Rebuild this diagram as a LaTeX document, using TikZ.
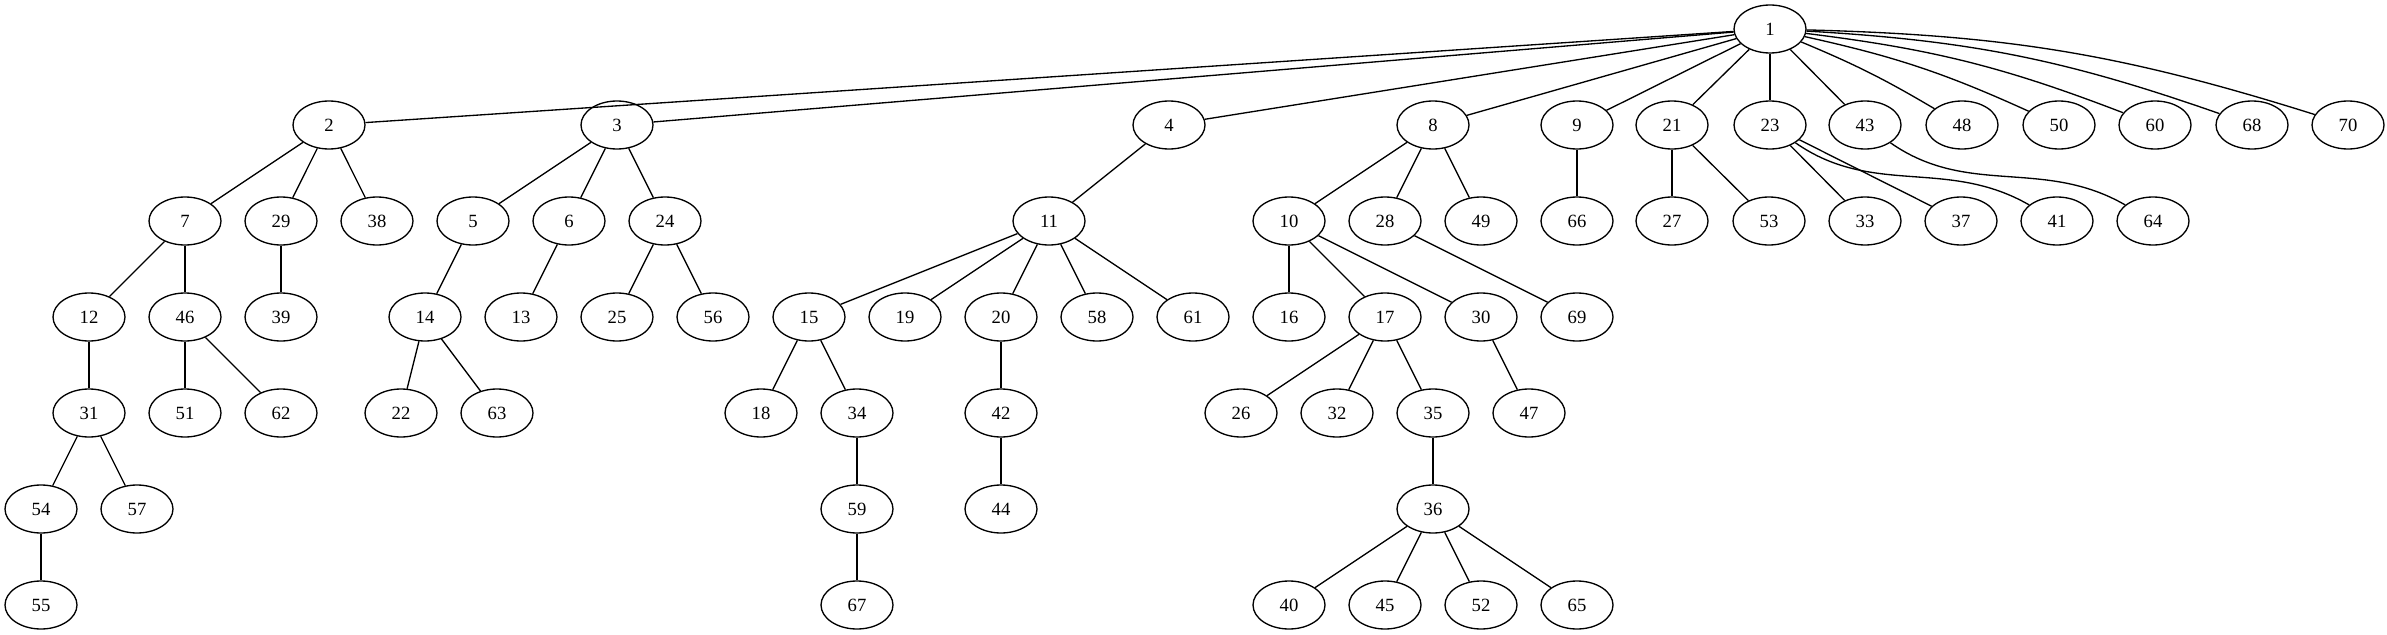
\documentclass[tikz,border=0pt]{standalone}
\usepackage{fontspec}
\setmainfont{Liberation Serif}
\usetikzlibrary{shapes.geometric}

\begin{document}
\begin{tikzpicture}[x=0.75pt,y=-0.75pt]
% Styles
\tikzstyle{arete}=[line width=1pt]
\tikzstyle{noeud}=[ellipse,draw,line width=1pt,minimum width=54pt,minimum height=36pt,inner sep=0pt,font=\fontsize{14pt}{16pt}\selectfont]
% Dimensions
\def\DistanceInterNiveaux{96}
\def\Haut{29}
% Dimensions calculees
\def\NiveauA{\Haut+(0)*\DistanceInterNiveaux}
\def\NiveauB{\Haut+(1)*\DistanceInterNiveaux}
\def\NiveauC{\Haut+(2)*\DistanceInterNiveaux}
\def\NiveauD{\Haut+(3)*\DistanceInterNiveaux}
\def\NiveauE{\Haut+(4)*\DistanceInterNiveaux}
\def\NiveauF{\Haut+(5)*\DistanceInterNiveaux}
\def\NiveauG{\Haut+(6)*\DistanceInterNiveaux}
\useasboundingbox (0,0) rectangle (2387,635);
% Noeuds
\node[noeud] (n1) at ({1770},{\NiveauA}) {1};
\node[noeud] (n2) at ({329},{\NiveauB}) {2};
\node[noeud] (n3) at ({617},{\NiveauB}) {3};
\node[noeud] (n4) at ({1169},{\NiveauB}) {4};
\node[noeud] (n8) at ({1433},{\NiveauB}) {8};
\node[noeud] (n9) at ({1577},{\NiveauB}) {9};
\node[noeud] (n21) at ({1672},{\NiveauB}) {21};
\node[noeud] (n23) at ({1770},{\NiveauB}) {23};
\node[noeud] (n43) at ({1865},{\NiveauB}) {43};
\node[noeud] (n48) at ({1962},{\NiveauB}) {48};
\node[noeud] (n50) at ({2059},{\NiveauB}) {50};
\node[noeud] (n60) at ({2155},{\NiveauB}) {60};
\node[noeud] (n68) at ({2252},{\NiveauB}) {68};
\node[noeud] (n70) at ({2348},{\NiveauB}) {70};
\node[noeud] (n7) at ({185},{\NiveauC}) {7};
\node[noeud] (n29) at ({281},{\NiveauC}) {29};
\node[noeud] (n38) at ({377},{\NiveauC}) {38};
\node[noeud] (n5) at ({473},{\NiveauC}) {5};
\node[noeud] (n6) at ({569},{\NiveauC}) {6};
\node[noeud] (n24) at ({665},{\NiveauC}) {24};
\node[noeud] (n11) at ({1049},{\NiveauC}) {11};
\node[noeud] (n10) at ({1289},{\NiveauC}) {10};
\node[noeud] (n28) at ({1385},{\NiveauC}) {28};
\node[noeud] (n49) at ({1481},{\NiveauC}) {49};
\node[noeud] (n66) at ({1577},{\NiveauC}) {66};
\node[noeud] (n27) at ({1672},{\NiveauC}) {27};
\node[noeud] (n53) at ({1769},{\NiveauC}) {53};
\node[noeud] (n33) at ({1865},{\NiveauC}) {33};
\node[noeud] (n37) at ({1961},{\NiveauC}) {37};
\node[noeud] (n41) at ({2057},{\NiveauC}) {41};
\node[noeud] (n64) at ({2153},{\NiveauC}) {64};
\node[noeud] (n12) at ({89},{\NiveauD}) {12};
\node[noeud] (n46) at ({185},{\NiveauD}) {46};
\node[noeud] (n39) at ({281},{\NiveauD}) {39};
\node[noeud] (n14) at ({425},{\NiveauD}) {14};
\node[noeud] (n13) at ({521},{\NiveauD}) {13};
\node[noeud] (n25) at ({617},{\NiveauD}) {25};
\node[noeud] (n56) at ({713},{\NiveauD}) {56};
\node[noeud] (n15) at ({809},{\NiveauD}) {15};
\node[noeud] (n19) at ({905},{\NiveauD}) {19};
\node[noeud] (n20) at ({1001},{\NiveauD}) {20};
\node[noeud] (n58) at ({1097},{\NiveauD}) {58};
\node[noeud] (n61) at ({1193},{\NiveauD}) {61};
\node[noeud] (n16) at ({1289},{\NiveauD}) {16};
\node[noeud] (n17) at ({1385},{\NiveauD}) {17};
\node[noeud] (n30) at ({1481},{\NiveauD}) {30};
\node[noeud] (n69) at ({1577},{\NiveauD}) {69};
\node[noeud] (n31) at ({89},{\NiveauE}) {31};
\node[noeud] (n51) at ({185},{\NiveauE}) {51};
\node[noeud] (n62) at ({281},{\NiveauE}) {62};
\node[noeud] (n22) at ({401},{\NiveauE}) {22};
\node[noeud] (n63) at ({497},{\NiveauE}) {63};
\node[noeud] (n18) at ({761},{\NiveauE}) {18};
\node[noeud] (n34) at ({857},{\NiveauE}) {34};
\node[noeud] (n42) at ({1001},{\NiveauE}) {42};
\node[noeud] (n26) at ({1241},{\NiveauE}) {26};
\node[noeud] (n32) at ({1337},{\NiveauE}) {32};
\node[noeud] (n35) at ({1433},{\NiveauE}) {35};
\node[noeud] (n47) at ({1529},{\NiveauE}) {47};
\node[noeud] (n54) at ({41},{\NiveauF}) {54};
\node[noeud] (n57) at ({137},{\NiveauF}) {57};
\node[noeud] (n59) at ({857},{\NiveauF}) {59};
\node[noeud] (n44) at ({1001},{\NiveauF}) {44};
\node[noeud] (n36) at ({1433},{\NiveauF}) {36};
\node[noeud] (n55) at ({41},{\NiveauG}) {55};
\node[noeud] (n67) at ({857},{\NiveauG}) {67};
\node[noeud] (n40) at ({1289},{\NiveauG}) {40};
\node[noeud] (n45) at ({1385},{\NiveauG}) {45};
\node[noeud] (n52) at ({1481},{\NiveauG}) {52};
\node[noeud] (n65) at ({1577},{\NiveauG}) {65};
% Arcs
\draw[arete] (n1)--(n2);
\draw[arete] (n1)--(n3);
\draw[arete] (n1)--(n4);
\draw[arete] (n1)--(n8);
\draw[arete] (n1)--(n9);
\draw[arete] (n1)--(n21);
\draw[arete] (n1)--(n23);
\draw[arete] (n1)--(n43);
\draw[arete] (n1) to[bend left=4] (n48);
\draw[arete] (n1) to[bend left=6] (n50);
\draw[arete] (n1) to[bend left=7] (n60);
\draw[arete] (n1) to[bend left=8] (n68);
\draw[arete] (n1) to[bend left=8] (n70);
\draw[arete] (n2)--(n7);
\draw[arete] (n2)--(n29);
\draw[arete] (n2)--(n38);
\draw[arete] (n3)--(n5);
\draw[arete] (n3)--(n6);
\draw[arete] (n3)--(n24);
\draw[arete] (n4)--(n11);
\draw[arete] (n8)--(n10);
\draw[arete] (n8)--(n28);
\draw[arete] (n8)--(n49);
\draw[arete] (n9)--(n66);
\draw[arete] (n21)--(n27);
\draw[arete] (n21)--(n53);
\draw[arete] (n23)--(n33);
\draw[arete] (n23)--(n37);
\draw[arete] (n23) to[out=-35,in=150] (n41);
\draw[arete] (n43) to[out=-35,in=150] (n64);
\draw[arete] (n7)--(n12);
\draw[arete] (n7)--(n46);
\draw[arete] (n29)--(n39);
\draw[arete] (n5)--(n14);
\draw[arete] (n6)--(n13);
\draw[arete] (n24)--(n25);
\draw[arete] (n24)--(n56);
\draw[arete] (n11)--(n15);
\draw[arete] (n11)--(n19);
\draw[arete] (n11)--(n20);
\draw[arete] (n11)--(n58);
\draw[arete] (n11)--(n61);
\draw[arete] (n10)--(n16);
\draw[arete] (n10)--(n17);
\draw[arete] (n10)--(n30);
\draw[arete] (n28)--(n69);
\draw[arete] (n12)--(n31);
\draw[arete] (n46)--(n51);
\draw[arete] (n46)--(n62);
\draw[arete] (n14)--(n22);
\draw[arete] (n14)--(n63);
\draw[arete] (n15)--(n18);
\draw[arete] (n15)--(n34);
\draw[arete] (n20)--(n42);
\draw[arete] (n17)--(n26);
\draw[arete] (n17)--(n32);
\draw[arete] (n17)--(n35);
\draw[arete] (n30)--(n47);
\draw[arete] (n31)--(n54);
\draw[arete] (n31)--(n57);
\draw[arete] (n34)--(n59);
\draw[arete] (n42)--(n44);
\draw[arete] (n35)--(n36);
\draw[arete] (n54)--(n55);
\draw[arete] (n59)--(n67);
\draw[arete] (n36)--(n40);
\draw[arete] (n36)--(n45);
\draw[arete] (n36)--(n52);
\draw[arete] (n36)--(n65);
\end{tikzpicture}
\end{document}
